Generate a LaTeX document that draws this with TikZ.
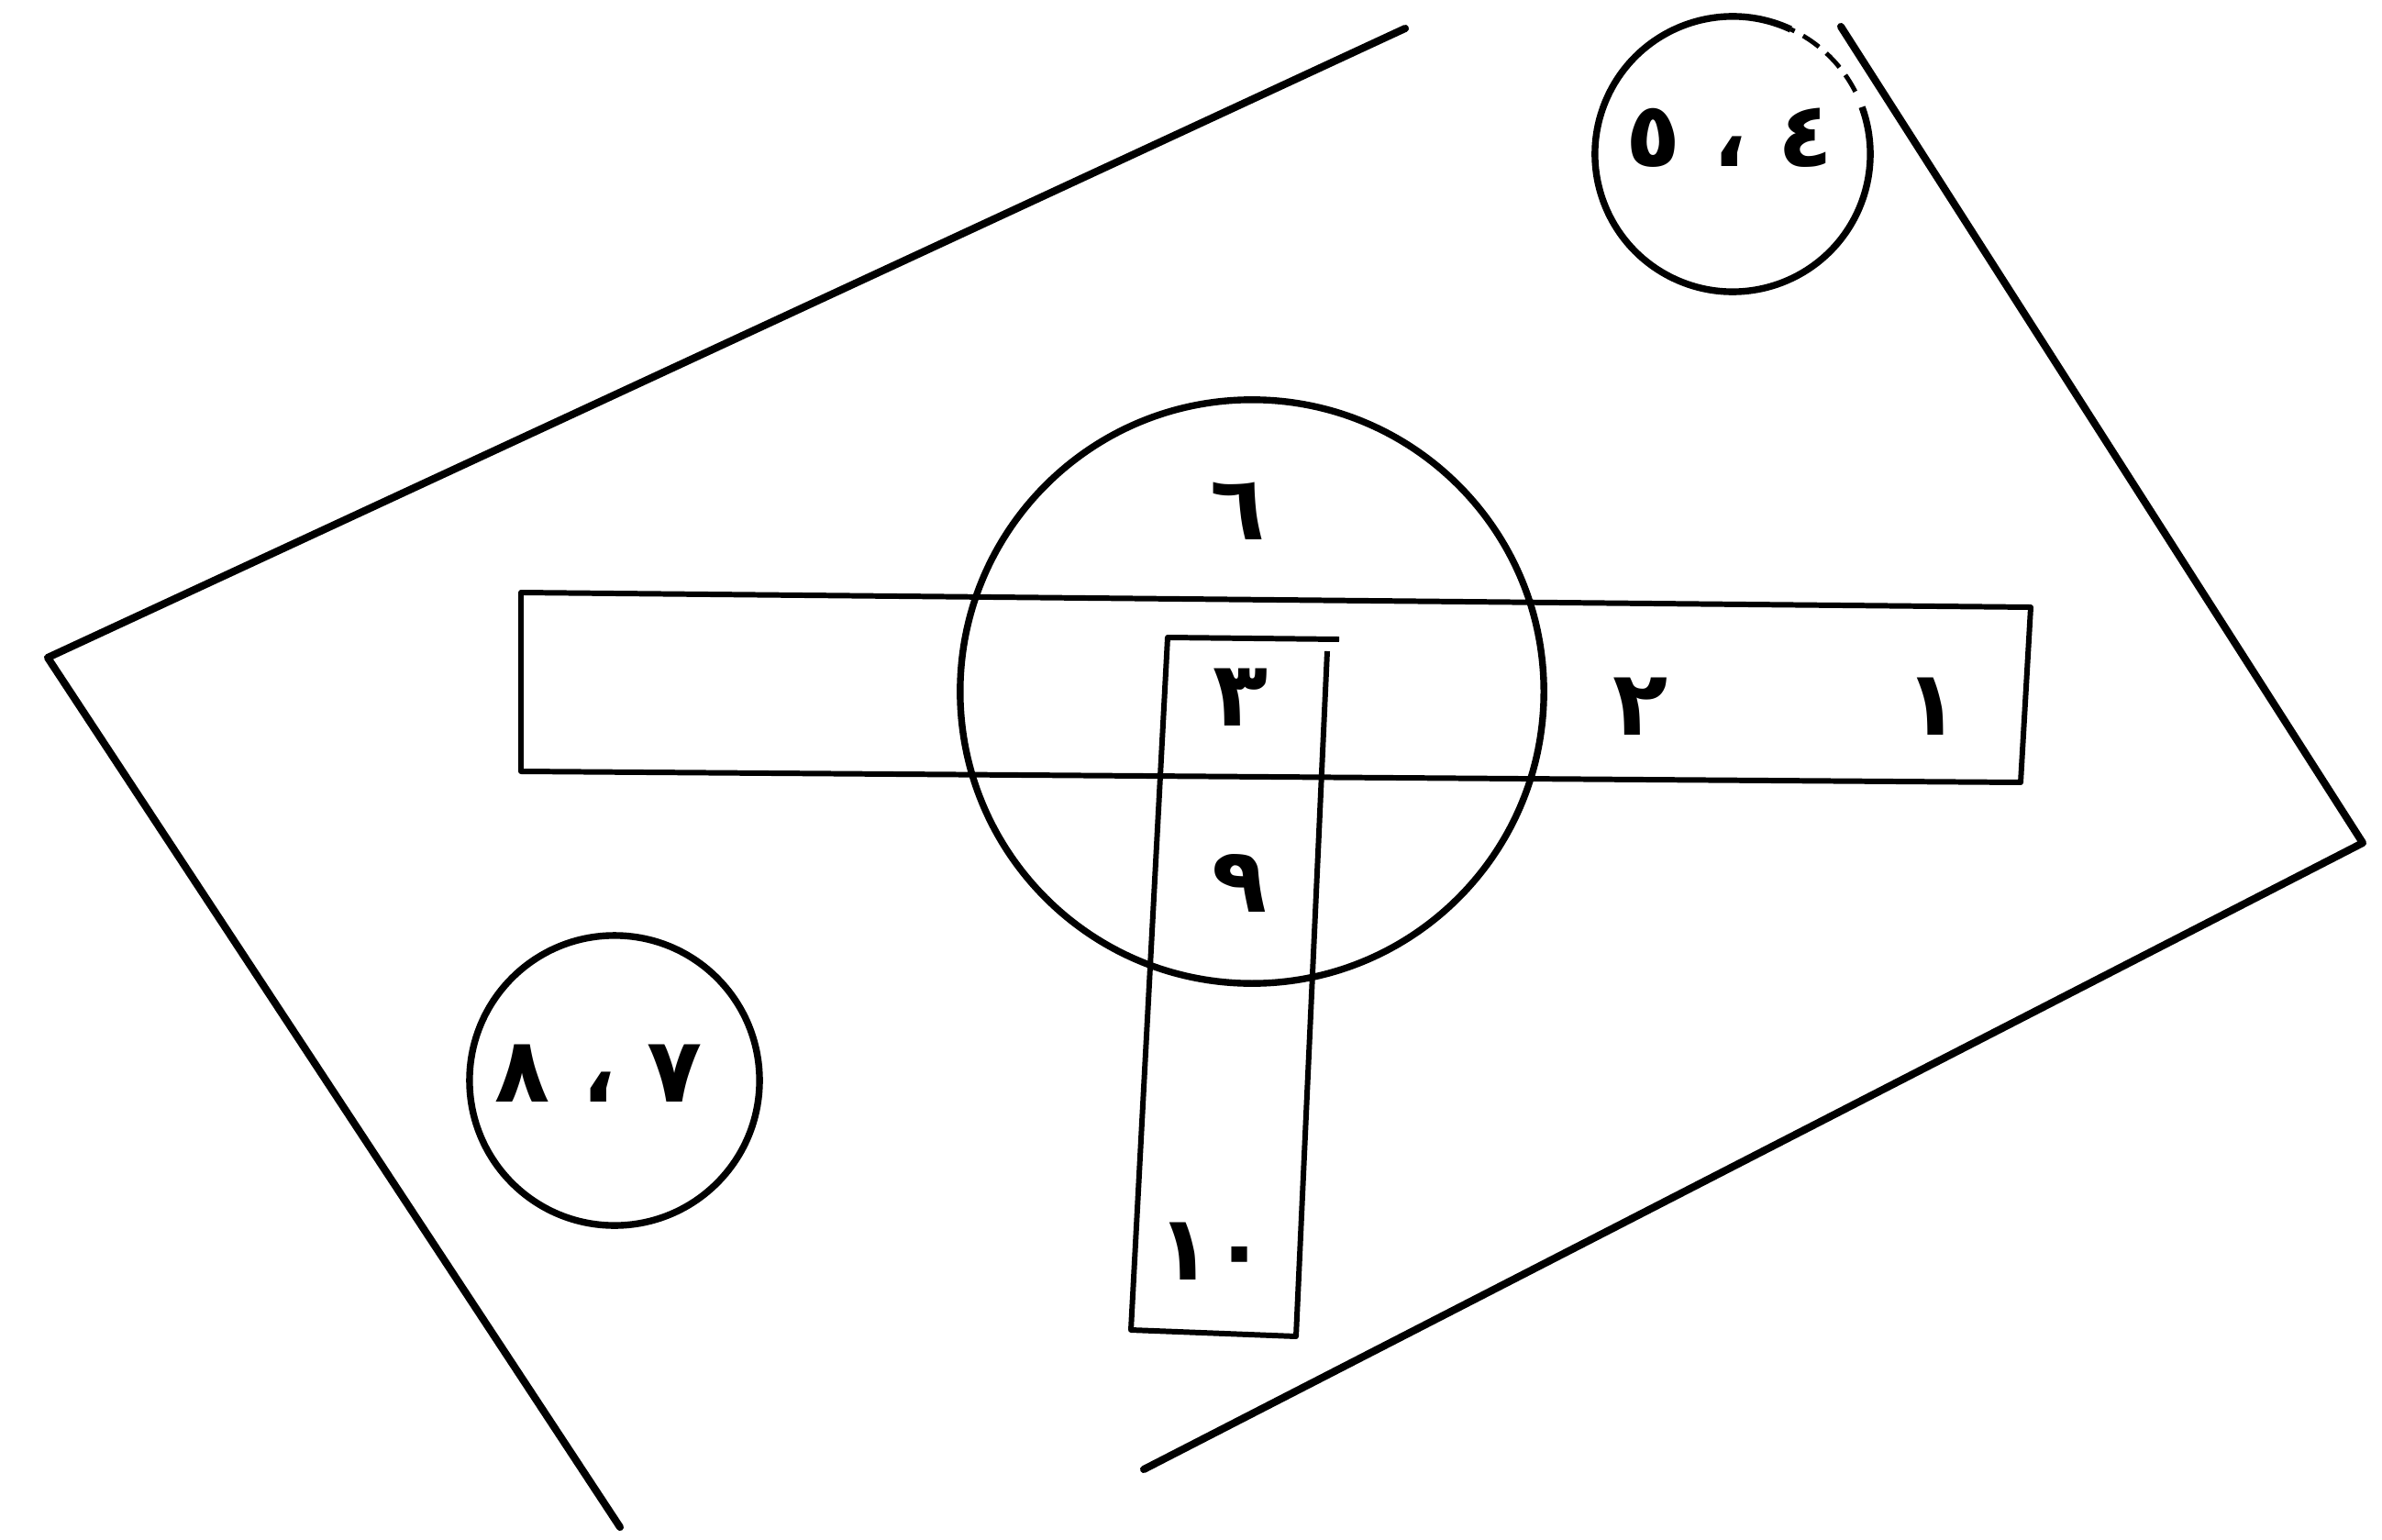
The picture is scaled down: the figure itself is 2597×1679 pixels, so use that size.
\documentclass[tikz,border=0pt]{standalone}
\usepackage{fontspec}
\newfontfamily\arabicfont[Script=Arabic]{DejaVu Sans}
\TeXXeTstate=1
\begin{document}
\begin{tikzpicture}[x=0.01cm,y=-0.01cm,
  outerline/.style={line width=2.3pt,line cap=round,line join=round},
  boxline/.style={line width=1.7pt,line join=round},
  ringline/.style={line width=2.1pt},
  lbl/.style={font=\arabicfont\bfseries\fontsize{28}{32}\selectfont,inner sep=0pt}]
\useasboundingbox (0,0) rectangle (2597,1679);
% outer open quadrilateral
\coordinate (A) at (1532,31);
\coordinate (B) at (52,717);
\coordinate (C) at (676,1665);
\coordinate (D) at (1247,1602);
\coordinate (E) at (2576,919);
\coordinate (F) at (2007,29);
\draw[outerline] (A) -- (B) -- (C);
\draw[outerline] (D) -- (E) -- (F);
% horizontal bar
\coordinate (h1) at (568,646);
\coordinate (h2) at (2214,662);
\coordinate (h3) at (2203,853);
\coordinate (h4) at (568,841);
\draw[boxline] (h1) -- (h2) -- (h3) -- (h4) -- cycle;
% vertical bar
\coordinate (v0) at (1460,697);
\coordinate (v1) at (1273,695);
\coordinate (v2) at (1233,1450);
\coordinate (v3) at (1413,1457);
\coordinate (v4) at (1447,710);
\draw[boxline] (v0) -- (v1) -- (v2) -- (v3) -- (v4);
% big circle
\coordinate (bigc) at (1365,754);
\draw[ringline] (bigc) circle[radius=3.18cm];
% top right circle
\coordinate (trc) at (1889,168);
\draw[ringline] ([shift={(65:1.5cm)}]trc) arc[start angle=65,end angle=380,radius=1.5cm];
\draw[line width=1.4pt,dash pattern=on 6pt off 3pt] ([shift={(27:1.5cm)}]trc) arc[start angle=27,end angle=65,radius=1.5cm];
% bottom left circle
\coordinate (blc) at (670,1178);
\draw[ringline] (blc) circle[radius=1.58cm];
% labels
\node[lbl] (n6) at (1350,557) {\beginR ٦\endR};
\node[lbl] (n3) at (1353,760) {\beginR ٣\endR};
\node[lbl] (n9) at (1352,963) {\beginR ٩\endR};
\node[lbl] (n2) at (1789,770) {\beginR ٢\endR};
\node[lbl] (n1) at (2107,770) {\beginR ١\endR};
\node[lbl] (n10) at (1322,1364) {\beginR ١٠\endR};
\node[lbl] (n45) at (1886,150) {\beginR ٤ ، ٥\endR};
\node[lbl] (n78) at (653,1170) {\beginR ٧ ، ٨\endR};
\end{tikzpicture}
\end{document}
